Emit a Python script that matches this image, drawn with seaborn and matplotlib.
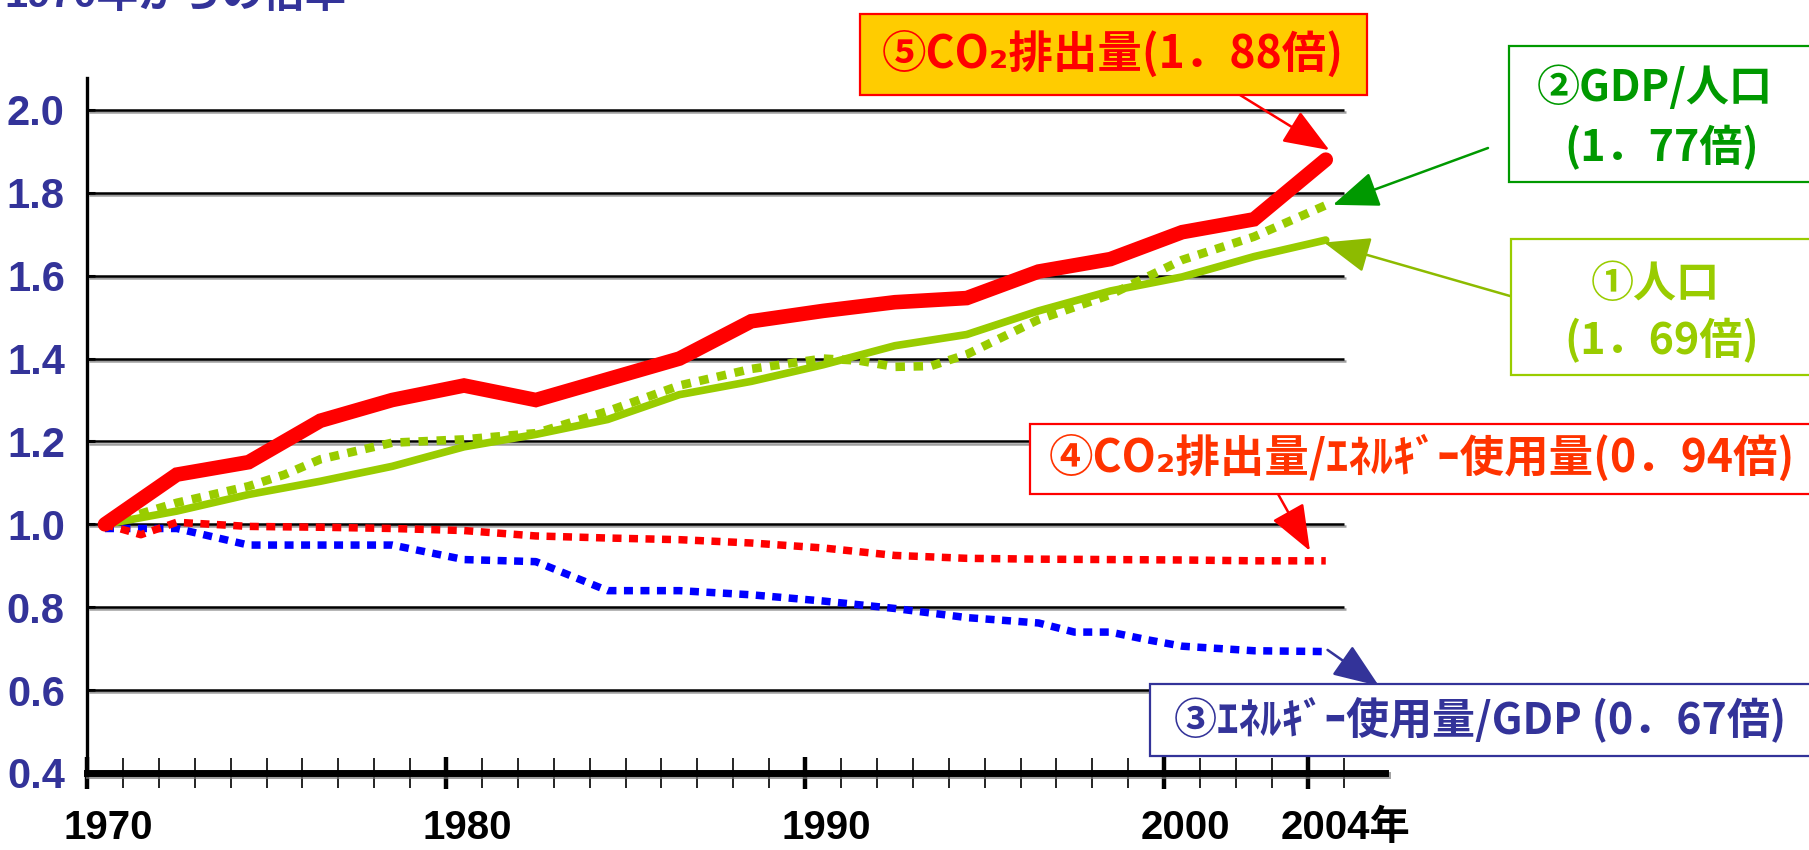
import numpy as np
import pandas as pd
import matplotlib
matplotlib.use("Agg")
import matplotlib.pyplot as plt
import seaborn as sns
from matplotlib import patheffects as pe
from matplotlib import font_manager as fm
from matplotlib.patches import Rectangle
from matplotlib.transforms import blended_transform_factory

# ---------------- data ----------------
years_2y = list(range(1970, 2005, 2))
co2_total = [1.00, 1.12, 1.15, 1.25, 1.30, 1.335, 1.30, 1.35, 1.40, 1.49,
             1.515, 1.536, 1.546, 1.61, 1.64, 1.705, 1.736, 1.88]
population = [1.00, 1.032, 1.072, 1.104, 1.14, 1.187, 1.217, 1.253, 1.313, 1.345,
              1.385, 1.431, 1.458, 1.515, 1.563, 1.597, 1.646, 1.686]

years_gdp_pc = [1970, 1971, 1972, 1974, 1975, 1976, 1978, 1980, 1982, 1984, 1986, 1988,
                1990, 1991, 1992, 1993, 1994, 1996, 1998, 2000, 2002, 2004]
gdp_per_capita = [1.00, 1.026, 1.052, 1.092, 1.12, 1.157, 1.197, 1.205, 1.22, 1.273, 1.335, 1.375,
                  1.40, 1.395, 1.38, 1.382, 1.41, 1.494, 1.554, 1.638, 1.694, 1.77]

years_co2_energy = [1970, 1971, 1972, 1974, 1976, 1978, 1980, 1982, 1984, 1986, 1988,
                    1990, 1992, 1994, 1996, 1998, 2000, 2002, 2004]
co2_per_energy = [1.00, 0.975, 1.005, 0.995, 0.993, 0.99, 0.985, 0.972, 0.967, 0.963, 0.955,
                  0.943, 0.925, 0.918, 0.916, 0.915, 0.914, 0.912, 0.912]

years_energy_gdp = [1970, 1972, 1974, 1976, 1978, 1980, 1982, 1984, 1986, 1988, 1990,
                    1992, 1994, 1996, 1997, 1998, 1999, 2000, 2002, 2004]
energy_per_gdp = [0.99, 0.99, 0.95, 0.95, 0.95, 0.915, 0.91, 0.84, 0.84, 0.83, 0.815,
                  0.797, 0.775, 0.762, 0.74, 0.74, 0.722, 0.706, 0.695, 0.693]

y_ticks = [0.4, 0.6, 0.8, 1.0, 1.2, 1.4, 1.6, 1.8, 2.0]
x_label_years = [1970, 1980, 1990, 2000, 2004]
x_label_texts = ["1970", "1980", "1990", "2000", "2004年"]
title_text = "1970年からの倍率"

label_co2 = "⑤CO₂排出量(1．88倍)"
label_gdp_pc = ["②GDP/人口", "(1．77倍)"]
label_pop = ["①人口", "(1．69倍)"]
label_co2_energy = "④CO₂排出量/ｴﾈﾙｷﾞｰ使用量(0．94倍)"
label_energy_gdp = "③ｴﾈﾙｷﾞｰ使用量/GDP (0．67倍)"

# ---------------- style ----------------
RED = "#FF0000"
ORANGE_RED = "#FF3300"
YGREEN = "#99CC00"
GREEN = "#009900"
OLIVE = "#8DBB00"
BLUE = "#0000FF"
NAVY = "#333399"

sns.set_theme(style="white")
names = {f.name for f in fm.fontManager.ttflist}
if "Liberation Sans Narrow" in names:
    NUM_FONT, Y_SIZE, X_SIZE = "Liberation Sans Narrow", 33, 32
else:
    NUM_FONT, Y_SIZE, X_SIZE = "Liberation Sans", 30, 29
CJK = "Noto Sans CJK JP"
plt.rcParams["font.family"] = [CJK, "DejaVu Sans"]

W, H = 1809, 850
fig = plt.figure(figsize=(W / 100, H / 100), dpi=100)
fig.patch.set_facecolor("white")


def fx(px):
    return px / W


def fy(py):
    return 1 - py / H


ax = fig.add_axes([fx(87), fy(773), fx(1385) - fx(87), fy(78) - fy(773)])
ax.set_facecolor("white")
ax.set_xlim(1969.5, 2005.65)
ax.set_ylim(0.4, 2.077)

shadow = [pe.SimpleLineShadow(offset=(1.5, -1.5), shadow_color="#777777", alpha=0.7), pe.Normal()]

# gridlines (category area only)
grid = ax.hlines(y_ticks[1:], 1969.5, 2004.5, colors="black", lw=1.8, zorder=1)
grid.set_path_effects(shadow)

# ---------------- series ----------------
dot_a = (0, (1.2, 1.0))
dot_b = (0, (1.1, 1.0))

sns.lineplot(data=pd.DataFrame({"year": years_energy_gdp, "v": energy_per_gdp}), x="year", y="v",
             ax=ax, color=BLUE, lw=5.4, linestyle=dot_a, dash_capstyle="butt", zorder=3)
sns.lineplot(data=pd.DataFrame({"year": years_co2_energy, "v": co2_per_energy}), x="year", y="v",
             ax=ax, color=RED, lw=5.4, linestyle=dot_a, dash_capstyle="butt", zorder=3)
sns.lineplot(data=pd.DataFrame({"year": years_gdp_pc, "v": gdp_per_capita}), x="year", y="v",
             ax=ax, color=YGREEN, lw=6.2, linestyle=dot_b, dash_capstyle="butt", zorder=4)
sns.lineplot(data=pd.DataFrame({"year": years_2y, "v": population}), x="year", y="v",
             ax=ax, color=YGREEN, lw=5.5, zorder=4, solid_joinstyle="miter")
sns.lineplot(data=pd.DataFrame({"year": years_2y, "v": co2_total}), x="year", y="v",
             ax=ax, color=RED, lw=10.5, zorder=5, solid_joinstyle="miter")
ax.set_xlabel("")
ax.set_ylabel("")

# ---------------- axes ----------------
for s in ("top", "right"):
    ax.spines[s].set_visible(False)
ax.spines["left"].set_color("black")
ax.spines["left"].set_linewidth(2.4)
ax.spines["bottom"].set_color("black")
ax.spines["bottom"].set_linewidth(5.0)
ax.spines["bottom"].set_path_effects(shadow)

major_bounds = [1969.5, 1979.5, 1989.5, 1999.5, 2003.5]
minor_bounds = [y + 0.5 for y in range(1969, 2005)]
ax.set_xticks(major_bounds)
ax.set_xticks(minor_bounds, minor=True)
ax.tick_params(axis="x", which="major", direction="inout", length=23, width=3.2,
               color="black", labelbottom=False, bottom=True)
ax.tick_params(axis="x", which="minor", direction="inout", length=22, width=1.2,
               color="black", bottom=True)

ax.set_yticks(y_ticks)
ax.set_yticklabels([f"{v:.1f}" for v in y_ticks])
ax.tick_params(axis="y", which="major", direction="in", length=6, width=2.2, color="black",
               left=True, pad=16, labelsize=Y_SIZE, labelcolor=NAVY)
for t in ax.get_yticklabels():
    t.set_fontfamily([NUM_FONT, CJK])
    t.set_fontweight("bold")

trans = blended_transform_factory(ax.transData, ax.transAxes)
for yr, lab in zip(x_label_years, x_label_texts):
    if lab.endswith("年"):
        ax.text(yr - 1.25, -0.079, lab, transform=trans, ha="left", va="center",
                fontsize=X_SIZE, fontweight="bold", color="black", family=[NUM_FONT, CJK])
    else:
        ax.text(yr + 0.1, -0.079, lab, transform=trans, ha="center", va="center",
                fontsize=X_SIZE, fontweight="bold", color="black", family=[NUM_FONT, CJK])

# cut-off title at the very top (as in the reference)
fig.text(fx(4), fy(7), title_text, ha="left", va="baseline", fontsize=Y_SIZE, fontweight="bold",
         color=NAVY, family=[NUM_FONT, CJK])

# ---------------- annotation boxes ----------------
def box(x0, y0, x1, y1, face, edge):
    fig.add_artist(Rectangle((fx(x0), fy(y1)), fx(x1) - fx(x0), fy(y0) - fy(y1),
                             transform=fig.transFigure, facecolor=face, edgecolor=edge,
                             lw=1.6, zorder=10))


def label(xc, yc, s, color, size=31):
    fig.text(fx(xc), fy(yc), s, ha="center", va="center", fontsize=size, fontweight="bold",
             color=color, family=[CJK, "DejaVu Sans"], zorder=11)


def arrow(tail, tip, color, tail_coords="figure fraction", tip_coords="data", ms=32):
    ax.annotate("", xy=tip, xycoords=tip_coords, xytext=tail, textcoords=tail_coords,
                arrowprops=dict(arrowstyle="-|>,head_length=0.9,head_width=0.35", color=color,
                                lw=1.8, mutation_scale=ms, shrinkA=0, shrinkB=0),
                annotation_clip=False, zorder=12)


box(860, 14, 1367, 95, "#FFCC00", RED)
label(1113, 54, label_co2, RED, 32)
arrow((fx(1240), fy(95)), (2004.1, 1.903), RED)

box(1509, 46, 1815, 182, "white", GREEN)
label(1655, 88, label_gdp_pc[0], GREEN)
label(1662, 148, label_gdp_pc[1], GREEN)
arrow((fx(1488), fy(148)), (2004.2, 1.771), GREEN)

box(1511, 239, 1815, 375, "white", YGREEN)
label(1655, 284, label_pop[0], YGREEN)
label(1662, 341, label_pop[1], YGREEN)
arrow((fx(1517), fy(298)), (2003.95, 1.68), OLIVE)

box(1030, 424, 1815, 494, "white", RED)
label(1422, 458, label_co2_energy, ORANGE_RED, 32)
arrow((fx(1278), fy(494)), (2003.56, 0.936), RED)

box(1150, 684, 1815, 756, "white", NAVY)
label(1480, 719, label_energy_gdp, NAVY, 31)
arrow((2004.05, 0.697), (fx(1379), fy(686)), NAVY, tail_coords="data", tip_coords="figure fraction")

fig.savefig("out.png", dpi=100, facecolor="white")
